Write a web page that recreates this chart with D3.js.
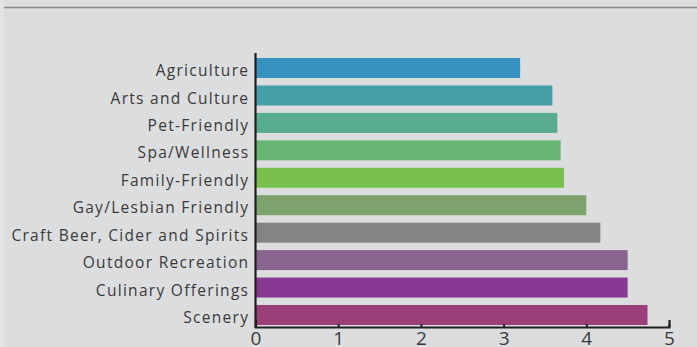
<!DOCTYPE html>
<html>
<head>
<meta charset="utf-8">
<script src="https://cdn.jsdelivr.net/npm/d3@7"></script>
<style>
  html, body { margin: 0; padding: 0; background: #dcdddf; }
  svg { display: block; }
</style>
</head>
<body>
<svg id="chart" width="697" height="347"></svg>
<script>
// Average rating by travel interest
const categories = [
  "Agriculture",
  "Arts and Culture",
  "Pet-Friendly",
  "Spa/Wellness",
  "Family-Friendly",
  "Gay/Lesbian Friendly",
  "Craft Beer, Cider and Spirits",
  "Outdoor Recreation",
  "Culinary Offerings",
  "Scenery"
];
const values = [3.2, 3.59, 3.65, 3.69, 3.73, 4.0, 4.17, 4.5, 4.5, 4.74];
const barColors = [
  "#3792bf", "#469ea8", "#57ab8e", "#69b574", "#78c14c",
  "#7ca26e", "#838483", "#88648f", "#8a3794", "#9b3f7a"
];
const xTicks = [0, 1, 2, 3, 4, 5];

const svg = d3.select("#chart");
const W = 697, H = 347;
const fontFamily = "'Open Sans', 'Noto Sans', sans-serif";

svg.append("rect").attr("width", W).attr("height", H).attr("fill", "#dcdddf");
svg.append("rect").attr("width", 4).attr("height", H).attr("fill", "#e2e3e4");

// header rule
svg.append("line")
  .attr("x1", 4).attr("x2", W).attr("y1", 7.5).attr("y2", 7.5)
  .attr("stroke", "#8a8b8d").attr("stroke-width", 1.6);

const x = d3.scaleLinear().domain([0, 5]).range([255.5, 669]);
const y = d3.scaleBand().domain(categories).range([54.3, 328.7])
  .paddingInner(0.271).paddingOuter(0.135);

// bars
svg.append("g").selectAll("rect")
  .data(categories)
  .join("rect")
  .attr("x", x(0))
  .attr("y", d => y(d))
  .attr("width", (d, i) => x(values[i]) - x(0))
  .attr("height", y.bandwidth())
  .attr("fill", (d, i) => barColors[i]);

const axisColor = "#231f20";

// x axis
const xAxis = svg.append("g").attr("transform", "translate(0,327)")
  .call(d3.axisBottom(x).tickValues(xTicks).tickFormat(d3.format("d")).tickSizeInner(-3).tickSizeOuter(-7).tickPadding(6));
xAxis.select(".domain").attr("stroke", axisColor).attr("stroke-width", 2.2);
xAxis.selectAll(".tick line").attr("stroke", axisColor).attr("stroke-width", 2);
xAxis.selectAll(".tick text")
  .attr("fill", "#3a3a3a").attr("font-size", 19).attr("font-family", fontFamily)
  .attr("dy", "0.71em").attr("y", 4);

// y axis: labels set in a wide, light face
const yAxis = svg.append("g").attr("transform", "translate(255.5,0)")
  .call(d3.axisLeft(y).tickSize(0).tickPadding(7.5));
yAxis.select(".domain").attr("d", "M0,53V328").attr("stroke", axisColor).attr("stroke-width", 2.2);
yAxis.selectAll(".tick text")
  .attr("fill", "#3a3a3a").attr("font-size", 15.5).attr("font-family", fontFamily)
  .attr("letter-spacing", "1.3px")
  .attr("dx", "1.3px")
  .attr("dy", "0.52em");
</script>
</body>
</html>
